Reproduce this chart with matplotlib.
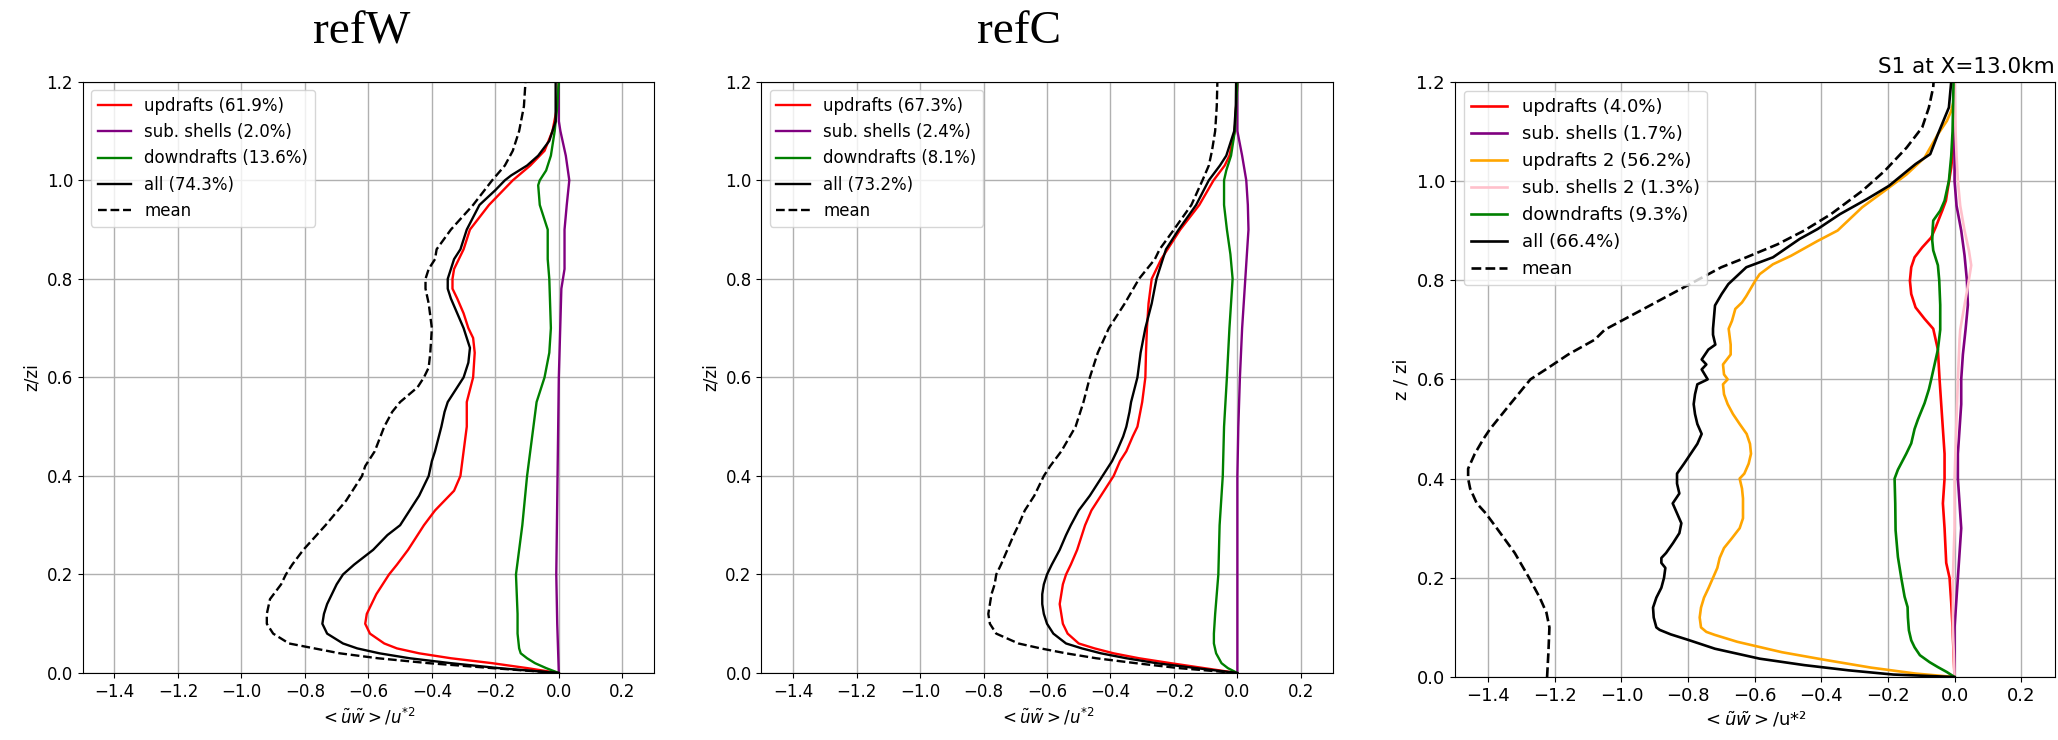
import matplotlib
matplotlib.use("Agg")
import matplotlib.pyplot as plt
import numpy as np

# ---------------- data: refW ----------------
refw_up_z = [0.0, 0.01, 0.02, 0.03, 0.04, 0.05, 0.06, 0.08, 0.10, 0.12, 0.14, 0.16, 0.18, 0.20, 0.22, 0.25, 0.28, 0.30, 0.33, 0.35, 0.37, 0.40, 0.45, 0.50, 0.55, 0.60, 0.65, 0.68, 0.70, 0.73, 0.76, 0.78, 0.80, 0.82, 0.84, 0.86, 0.90, 0.95, 1.00, 1.03, 1.06, 1.10, 1.15, 1.20]
refw_up_x = [0.0, -0.10, -0.21, -0.34, -0.44, -0.51, -0.55, -0.595, -0.61, -0.605, -0.59, -0.575, -0.555, -0.535, -0.51, -0.475, -0.445, -0.425, -0.39, -0.36, -0.33, -0.31, -0.30, -0.29, -0.29, -0.27, -0.265, -0.27, -0.285, -0.30, -0.32, -0.335, -0.335, -0.33, -0.315, -0.30, -0.28, -0.22, -0.145, -0.09, -0.045, -0.02, -0.005, 0.0]

refw_sub_z = [0.0, 0.1, 0.2, 0.4, 0.6, 0.78, 0.82, 0.9, 0.95, 1.0, 1.05, 1.1, 1.12, 1.2]
refw_sub_x = [0.0, -0.005, -0.008, -0.004, 0.0, 0.008, 0.018, 0.018, 0.025, 0.033, 0.022, 0.005, 0.0, 0.0]

refw_down_z = [0.0, 0.01, 0.02, 0.03, 0.04, 0.05, 0.08, 0.12, 0.20, 0.30, 0.40, 0.50, 0.55, 0.60, 0.65, 0.70, 0.80, 0.84, 0.90, 0.95, 0.99, 1.00, 1.02, 1.05, 1.10, 1.15, 1.20]
refw_down_x = [0.0, -0.04, -0.075, -0.10, -0.12, -0.125, -0.13, -0.13, -0.135, -0.115, -0.10, -0.08, -0.07, -0.045, -0.03, -0.025, -0.03, -0.035, -0.035, -0.06, -0.065, -0.06, -0.04, -0.025, -0.013, -0.005, 0.0]

refw_all_z = [0.0, 0.01, 0.02, 0.03, 0.04, 0.05, 0.06, 0.08, 0.10, 0.12, 0.14, 0.16, 0.18, 0.20, 0.22, 0.25, 0.28, 0.30, 0.33, 0.36, 0.40, 0.43, 0.45, 0.50, 0.53, 0.55, 0.58, 0.60, 0.63, 0.66, 0.70, 0.73, 0.76, 0.78, 0.80, 0.82, 0.84, 0.86, 0.90, 0.95, 0.98, 1.00, 1.01, 1.03, 1.05, 1.08, 1.10, 1.12, 1.20]
refw_all_x = [0.0, -0.19, -0.34, -0.47, -0.565, -0.635, -0.68, -0.73, -0.745, -0.74, -0.73, -0.715, -0.70, -0.68, -0.645, -0.585, -0.54, -0.50, -0.47, -0.44, -0.41, -0.40, -0.39, -0.37, -0.36, -0.35, -0.32, -0.30, -0.285, -0.28, -0.30, -0.32, -0.34, -0.35, -0.35, -0.34, -0.33, -0.31, -0.29, -0.25, -0.20, -0.17, -0.15, -0.10, -0.065, -0.03, -0.02, -0.01, -0.01]

refw_mean_z = [0.0, 0.01, 0.02, 0.03, 0.04, 0.06, 0.08, 0.10, 0.12, 0.15, 0.18, 0.20, 0.22, 0.25, 0.30, 0.35, 0.40, 0.42, 0.45, 0.50, 0.53, 0.55, 0.58, 0.60, 0.62, 0.65, 0.70, 0.75, 0.78, 0.80, 0.82, 0.84, 0.86, 0.90, 0.95, 1.00, 1.03, 1.06, 1.10, 1.15, 1.20]
refw_mean_x = [0.0, -0.21, -0.41, -0.57, -0.69, -0.85, -0.90, -0.92, -0.92, -0.91, -0.875, -0.86, -0.84, -0.805, -0.735, -0.67, -0.62, -0.61, -0.58, -0.55, -0.525, -0.50, -0.445, -0.425, -0.41, -0.405, -0.40, -0.41, -0.42, -0.42, -0.41, -0.39, -0.385, -0.34, -0.27, -0.21, -0.17, -0.145, -0.125, -0.11, -0.105]

# ---------------- data: refC ----------------
refc_up_z = [0.0, 0.01, 0.02, 0.03, 0.04, 0.05, 0.06, 0.08, 0.10, 0.12, 0.14, 0.16, 0.18, 0.20, 0.22, 0.25, 0.28, 0.30, 0.33, 0.36, 0.40, 0.43, 0.45, 0.48, 0.50, 0.55, 0.60, 0.65, 0.70, 0.75, 0.80, 0.84, 0.86, 0.90, 0.95, 1.00, 1.03, 1.05, 1.08, 1.10, 1.20]
refc_up_x = [0.0, -0.105, -0.21, -0.31, -0.39, -0.45, -0.50, -0.535, -0.55, -0.555, -0.56, -0.555, -0.55, -0.54, -0.525, -0.505, -0.49, -0.48, -0.46, -0.43, -0.39, -0.37, -0.35, -0.33, -0.315, -0.30, -0.29, -0.288, -0.285, -0.28, -0.27, -0.24, -0.22, -0.18, -0.12, -0.075, -0.04, -0.025, -0.015, -0.008, 0.0]

refc_sub_z = [0.0, 0.2, 0.4, 0.5, 0.6, 0.7, 0.8, 0.85, 0.9, 0.95, 1.0, 1.05, 1.1, 1.2]
refc_sub_x = [0.0, 0.0, 0.0, 0.003, 0.008, 0.015, 0.025, 0.03, 0.035, 0.033, 0.028, 0.015, 0.0, 0.0]

refc_down_z = [0.0, 0.01, 0.02, 0.04, 0.06, 0.08, 0.12, 0.16, 0.20, 0.30, 0.40, 0.50, 0.60, 0.70, 0.80, 0.85, 0.90, 0.95, 1.00, 1.02, 1.05, 1.10, 1.20]
refc_down_x = [0.0, -0.03, -0.05, -0.067, -0.074, -0.074, -0.07, -0.065, -0.06, -0.056, -0.046, -0.042, -0.033, -0.025, -0.015, -0.022, -0.033, -0.042, -0.042, -0.035, -0.02, -0.008, 0.0]

refc_all_z = [0.0, 0.01, 0.02, 0.03, 0.04, 0.05, 0.06, 0.08, 0.10, 0.12, 0.14, 0.16, 0.18, 0.20, 0.22, 0.25, 0.28, 0.30, 0.33, 0.36, 0.38, 0.40, 0.43, 0.45, 0.48, 0.50, 0.53, 0.55, 0.60, 0.65, 0.70, 0.75, 0.80, 0.84, 0.86, 0.90, 0.95, 1.00, 1.03, 1.05, 1.08, 1.10, 1.15, 1.20]
refc_all_x = [0.0, -0.13, -0.255, -0.35, -0.43, -0.49, -0.54, -0.58, -0.60, -0.61, -0.615, -0.615, -0.61, -0.60, -0.585, -0.56, -0.54, -0.525, -0.50, -0.465, -0.445, -0.425, -0.395, -0.38, -0.36, -0.35, -0.34, -0.335, -0.315, -0.305, -0.29, -0.27, -0.255, -0.235, -0.225, -0.185, -0.13, -0.09, -0.055, -0.035, -0.02, -0.01, -0.005, -0.004]

refc_mean_z = [0.0, 0.01, 0.02, 0.03, 0.04, 0.05, 0.06, 0.08, 0.10, 0.12, 0.14, 0.16, 0.18, 0.20, 0.22, 0.25, 0.28, 0.30, 0.33, 0.36, 0.40, 0.42, 0.45, 0.50, 0.55, 0.60, 0.65, 0.70, 0.75, 0.80, 0.84, 0.86, 0.90, 0.95, 1.00, 1.03, 1.06, 1.10, 1.15, 1.20]
refc_mean_x = [0.0, -0.185, -0.32, -0.445, -0.54, -0.62, -0.69, -0.76, -0.78, -0.785, -0.78, -0.775, -0.765, -0.76, -0.745, -0.725, -0.705, -0.69, -0.67, -0.64, -0.61, -0.59, -0.555, -0.51, -0.485, -0.465, -0.44, -0.405, -0.355, -0.31, -0.26, -0.245, -0.20, -0.145, -0.11, -0.09, -0.08, -0.07, -0.065, -0.063]

# ---------------- data: S1 at X=13.0km ----------------
s1_up_z = [0.0, 0.05, 0.10, 0.15, 0.20, 0.23, 0.30, 0.35, 0.40, 0.45, 0.50, 0.55, 0.60, 0.66, 0.702, 0.722, 0.745, 0.772, 0.799, 0.826, 0.846, 0.866, 0.886, 0.906, 0.94, 0.96, 1.027, 1.074, 1.20]
s1_up_x = [0.0, -0.003, -0.006, -0.01, -0.015, -0.025, -0.03, -0.035, -0.03, -0.03, -0.035, -0.04, -0.045, -0.05, -0.064, -0.09, -0.117, -0.13, -0.134, -0.13, -0.12, -0.097, -0.07, -0.057, -0.037, -0.026, -0.01, -0.003, 0.0]

s1_sub_z = [0.0, 0.1, 0.15, 0.2, 0.25, 0.3, 0.35, 0.4, 0.45, 0.5, 0.55, 0.6, 0.65, 0.7, 0.75, 0.8, 0.85, 0.9, 0.95, 1.0, 1.2]
s1_sub_x = [0.0, 0.0, 0.005, 0.01, 0.015, 0.02, 0.015, 0.01, 0.01, 0.015, 0.02, 0.02, 0.025, 0.033, 0.04, 0.037, 0.03, 0.02, 0.006, 0.0, 0.0]

s1_up2_z = [0.0, 0.007, 0.019, 0.034, 0.05, 0.071, 0.085, 0.091, 0.10, 0.12, 0.14, 0.16, 0.18, 0.20, 0.22, 0.24, 0.26, 0.28, 0.30, 0.32, 0.34, 0.36, 0.38, 0.40, 0.41, 0.43, 0.45, 0.47, 0.49, 0.51, 0.53, 0.55, 0.57, 0.59, 0.60, 0.61, 0.63, 0.65, 0.67, 0.702, 0.718, 0.742, 0.755, 0.768, 0.799, 0.812, 0.832, 0.849, 0.879, 0.90, 0.947, 0.98, 1.013, 1.047, 1.094, 1.121, 1.141, 1.168, 1.20]
s1_up2_x = [0.0, -0.117, -0.251, -0.384, -0.518, -0.652, -0.72, -0.745, -0.761, -0.765, -0.761, -0.752, -0.738, -0.725, -0.712, -0.705, -0.692, -0.668, -0.645, -0.635, -0.635, -0.635, -0.638, -0.645, -0.631, -0.618, -0.611, -0.614, -0.624, -0.645, -0.665, -0.681, -0.692, -0.695, -0.681, -0.692, -0.695, -0.672, -0.672, -0.678, -0.668, -0.658, -0.638, -0.625, -0.598, -0.585, -0.545, -0.491, -0.411, -0.351, -0.277, -0.21, -0.144, -0.09, -0.05, -0.023, -0.01, 0.0, 0.0]

s1_sub2_z = [0.0, 0.1, 0.2, 0.3, 0.4, 0.5, 0.6, 0.68, 0.7, 0.75, 0.8, 0.83, 0.86, 0.9, 0.95, 1.0, 1.05, 1.1, 1.2]
s1_sub2_x = [0.0, -0.005, -0.005, 0.0, 0.0, 0.005, 0.01, 0.015, 0.017, 0.03, 0.043, 0.05, 0.043, 0.03, 0.017, 0.01, 0.006, 0.003, 0.0]

s1_down_z = [0.0, 0.01, 0.02, 0.03, 0.044, 0.06, 0.074, 0.094, 0.12, 0.141, 0.162, 0.20, 0.242, 0.296, 0.35, 0.40, 0.418, 0.45, 0.471, 0.50, 0.519, 0.552, 0.58, 0.60, 0.63, 0.66, 0.70, 0.75, 0.80, 0.83, 0.86, 0.88, 0.90, 0.92, 0.94, 0.96, 1.00, 1.05, 1.10, 1.20]
s1_down_x = [0.0, -0.023, -0.05, -0.075, -0.104, -0.12, -0.13, -0.137, -0.14, -0.141, -0.15, -0.16, -0.17, -0.177, -0.178, -0.18, -0.17, -0.145, -0.13, -0.12, -0.11, -0.09, -0.077, -0.07, -0.06, -0.05, -0.043, -0.043, -0.046, -0.05, -0.064, -0.067, -0.066, -0.064, -0.043, -0.03, -0.017, -0.01, -0.006, -0.003]

s1_all_z = [0.0, 0.005, 0.0135, 0.024, 0.037, 0.057, 0.075, 0.086, 0.095, 0.10, 0.12, 0.14, 0.16, 0.18, 0.20, 0.22, 0.23, 0.24, 0.25, 0.27, 0.29, 0.31, 0.33, 0.35, 0.37, 0.39, 0.41, 0.43, 0.45, 0.47, 0.49, 0.51, 0.53, 0.55, 0.57, 0.59, 0.60, 0.62, 0.63, 0.64, 0.66, 0.67, 0.69, 0.702, 0.749, 0.772, 0.792, 0.826, 0.846, 0.883, 0.903, 0.933, 0.963, 0.99, 1.034, 1.054, 1.094, 1.148, 1.20]
s1_all_x = [0.0, -0.184, -0.318, -0.451, -0.585, -0.719, -0.80, -0.852, -0.885, -0.895, -0.903, -0.905, -0.895, -0.88, -0.872, -0.868, -0.88, -0.88, -0.866, -0.845, -0.826, -0.82, -0.833, -0.846, -0.826, -0.833, -0.833, -0.812, -0.792, -0.772, -0.759, -0.772, -0.779, -0.783, -0.779, -0.772, -0.741, -0.759, -0.745, -0.759, -0.739, -0.718, -0.725, -0.725, -0.719, -0.699, -0.679, -0.625, -0.545, -0.465, -0.411, -0.344, -0.264, -0.197, -0.117, -0.073, -0.05, -0.017, -0.01]

s1_mean_z = [0.0, 0.05, 0.10, 0.13, 0.16, 0.20, 0.25, 0.30, 0.33, 0.35, 0.38, 0.40, 0.42, 0.45, 0.48, 0.50, 0.55, 0.60, 0.62, 0.65, 0.68, 0.70, 0.826, 0.846, 0.872, 0.90, 0.933, 0.98, 1.02, 1.067, 1.108, 1.148, 1.189, 1.20]
s1_mean_x = [-1.223, -1.219, -1.216, -1.225, -1.245, -1.277, -1.32, -1.374, -1.407, -1.434, -1.454, -1.46, -1.46, -1.44, -1.414, -1.394, -1.334, -1.273, -1.227, -1.16, -1.08, -1.05, -0.70, -0.625, -0.532, -0.451, -0.371, -0.277, -0.21, -0.144, -0.097, -0.077, -0.064, -0.063]

labels_refw = ["updrafts (61.9%)", "sub. shells (2.0%)", "downdrafts (13.6%)", "all (74.3%)", "mean"]
labels_refc = ["updrafts (67.3%)", "sub. shells (2.4%)", "downdrafts (8.1%)", "all (73.2%)", "mean"]
labels_s1 = ["updrafts (4.0%)", "sub. shells (1.7%)", "updrafts 2 (56.2%)", "sub. shells 2 (1.3%)",
             "downdrafts (9.3%)", "all (66.4%)", "mean"]
panel_titles = ["refW", "refC"]
s1_title = "S1 at X=13.0km"
xticks = [-1.4, -1.2, -1.0, -0.8, -0.6, -0.4, -0.2, 0.0, 0.2]
yticks = [0.0, 0.2, 0.4, 0.6, 0.8, 1.0, 1.2]

plt.rcParams['font.family'] = ['DejaVu Sans']

fig = plt.figure(figsize=(20.58, 7.40), dpi=100)

ax1 = fig.add_axes([0.0402, 0.0905, 0.2776, 0.799])
ax2 = fig.add_axes([0.3700, 0.0905, 0.2775, 0.799])
ax3 = fig.add_axes([0.7069, 0.0851, 0.2914, 0.8045])

def style(ax, fs, ylabel, xlabel):
    ax.set_xlim(-1.5, 0.3)
    ax.set_ylim(0, 1.2)
    ax.set_xticks(xticks)
    ax.set_yticks(yticks)
    ax.tick_params(labelsize=fs)
    ax.grid(True, color='#b0b0b0', linewidth=1.0)
    ax.set_axisbelow(True)
    ax.set_ylabel(ylabel, fontsize=fs)
    ax.set_xlabel(xlabel, fontsize=fs)

lw = 1.7
for ax, d, labs in [
    (ax1, [(refw_up_x, refw_up_z), (refw_sub_x, refw_sub_z), (refw_down_x, refw_down_z),
           (refw_all_x, refw_all_z), (refw_mean_x, refw_mean_z)], labels_refw),
    (ax2, [(refc_up_x, refc_up_z), (refc_sub_x, refc_sub_z), (refc_down_x, refc_down_z),
           (refc_all_x, refc_all_z), (refc_mean_x, refc_mean_z)], labels_refc),
]:
    cols = ['red', 'purple', 'green', 'black', 'black']
    styles = ['-', '-', '-', '-', '--']
    for (x, z), c, ls, lab in zip(d, cols, styles, labs):
        ax.plot(x, z, color=c, linestyle=ls, linewidth=lw, label=lab)
    style(ax, 12, 'z/zi', r'$<\tilde{u}\tilde{w}>/u^{*2}$')
    ax.legend(loc='upper left', fontsize=12)

d3 = [(s1_up_x, s1_up_z), (s1_sub_x, s1_sub_z), (s1_up2_x, s1_up2_z), (s1_sub2_x, s1_sub2_z),
      (s1_down_x, s1_down_z), (s1_all_x, s1_all_z), (s1_mean_x, s1_mean_z)]
cols3 = ['red', 'purple', 'orange', 'pink', 'green', 'black', 'black']
styles3 = ['-', '-', '-', '-', '-', '-', '--']
for (x, z), c, ls, lab in zip(d3, cols3, styles3, labels_s1):
    ax3.plot(x, z, color=c, linestyle=ls, linewidth=1.9, label=lab)
style(ax3, 13, 'z / zi', r'$<\tilde{u}\tilde{w}>/$u*²')
ax3.legend(loc='upper left', fontsize=13)
ax3.set_title(s1_title, loc='right', fontsize=15.5)

fig.text(362 / 2058, 1 - 43 / 740, panel_titles[0], ha='center', va='baseline',
         fontsize=34, family='Liberation Serif')
fig.text(1019 / 2058, 1 - 43 / 740, panel_titles[1], ha='center', va='baseline',
         fontsize=34, family='Liberation Serif')

fig.savefig('out.png', dpi=100)
